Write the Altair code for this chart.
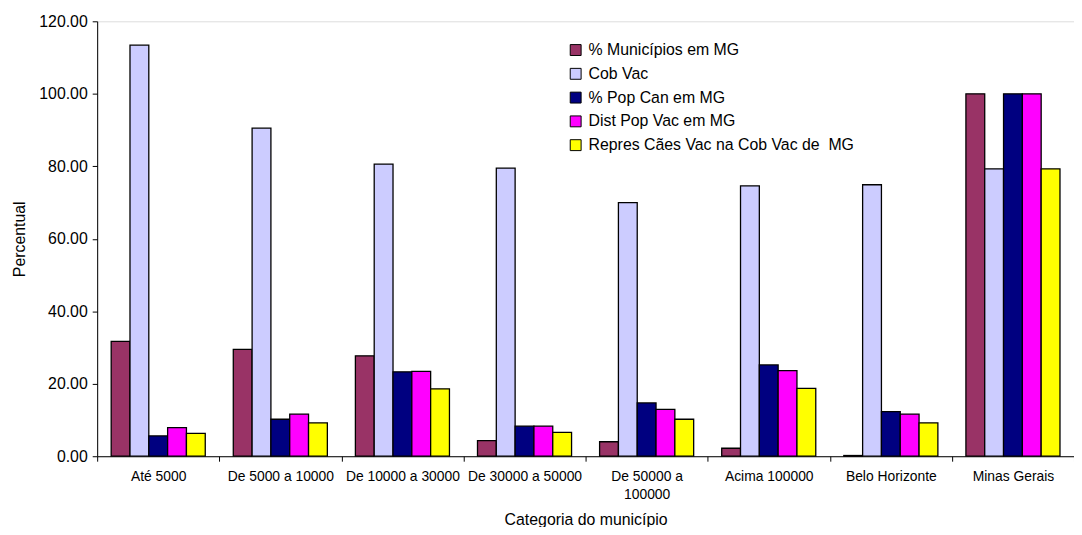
import altair as alt
import pandas as pd

categories = ["Até 5000", "De 5000 a 10000", "De 10000 a 30000", "De 30000 a 50000",
              "De 50000 a 100000", "Acima 100000", "Belo Horizonte", "Minas Gerais"]
series = ["% Municípios em MG", "Cob Vac", "% Pop Can em MG", "Dist Pop Vac em MG",
          "Repres Cães Vac na Cob Vac de \u00a0MG"]
colors = ["#993366", "#CCCCFF", "#000080", "#FF00FF", "#FFFF00"]

municipios = [31.7, 29.5, 27.7, 4.3, 4.0, 2.2, 0.2, 100.0]
cob_vac = [113.4, 90.5, 80.6, 79.5, 70.0, 74.6, 74.9, 79.3]
pop_can = [5.6, 10.2, 23.3, 8.3, 14.7, 25.2, 12.3, 100.0]
dist_pop = [7.9, 11.6, 23.4, 8.3, 12.9, 23.6, 11.6, 100.0]
repres = [6.3, 9.2, 18.6, 6.6, 10.2, 18.7, 9.2, 79.3]

rows = []
for vals, s in zip([municipios, cob_vac, pop_can, dist_pop, repres], series):
    for c, v in zip(categories, vals):
        rows.append({"Categoria": c, "Serie": s, "Valor": v})
df = pd.DataFrame(rows)

font = "Liberation Sans"

chart = alt.Chart(df).mark_bar(stroke="black", strokeWidth=1.3).encode(
    x=alt.X("Categoria:N", sort=categories,
            scale=alt.Scale(paddingInner=0, paddingOuter=0),
            axis=alt.Axis(title="Categoria do município", labelAngle=0, tickBand="extent",
                          labelFontSize=14, titleFontSize=16, labelFont=font, titleFont=font,
                          labelColor="black", titleColor="black", titleFontWeight="normal",
                          domainColor="black", tickColor="black", tickSize=5,
                          labelPadding=9, titlePadding=10, labelLineHeight=18,
                          labelExpr="datum.label == 'De 50000 a 100000' ? ['De 50000 a', '100000'] : datum.label")),
    xOffset=alt.XOffset("Serie:N", sort=series,
                        scale=alt.Scale(paddingInner=0, paddingOuter=0.745)),
    y=alt.Y("Valor:Q", scale=alt.Scale(domain=[0, 120], nice=False),
            axis=alt.Axis(title="Percentual", values=[0, 20, 40, 60, 80, 100, 120], format=".2f",
                          grid=False, labelFontSize=16, titleFontSize=16, labelFont=font, titleFont=font,
                          labelColor="black", titleColor="black", titleFontWeight="normal",
                          domainColor="black", tickColor="black", tickSize=5,
                          labelPadding=5, titlePadding=11)),
    color=alt.Color("Serie:N", sort=series,
                    scale=alt.Scale(domain=series, range=colors),
                    legend=alt.Legend(title=None, orient="none", legendX=475, legendY=21,
                                      symbolType="square", symbolSize=121,
                                      symbolStrokeColor="black", symbolStrokeWidth=1,
                                      labelFontSize=16, labelFont=font, labelColor="black",
                                      labelOffset=5, rowPadding=8, labelLimit=400)),
).properties(
    width=986, height=439,
    autosize=alt.AutoSizeParams(type="none"),
    padding={"left": 90, "top": 11, "right": 0, "bottom": 69},
).configure_view(stroke=None).configure(background="white")

chart.save("out.html", embed_options={"renderer": "svg", "actions": False})
